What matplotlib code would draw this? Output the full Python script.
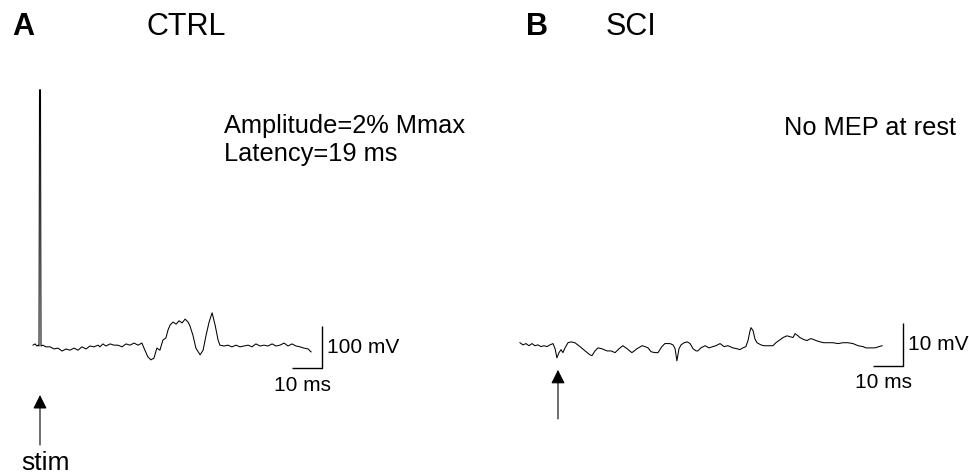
import matplotlib
matplotlib.use("Agg")
import matplotlib.pyplot as plt

plt.rcParams['font.family'] = ['Liberation Sans', 'DejaVu Sans']

# ---------------- data ----------------
# CTRL trace: time (ms) and voltage (mV)
ctrl_t = [0.0, 0.7, 1.3, 1.7, 2.0, 2.17, 2.5, 2.67, 3.3, 4.3,
          5.7, 7.0, 8.3, 9.7, 11.0, 12.3, 13.7, 15.0, 16.3, 17.7,
          19.0, 20.3, 21.7, 22.3, 23.3, 24.3, 25.7, 27.0, 28.3, 29.7,
          31.0, 32.3, 33.7, 35.0, 36.3, 37.3, 38.3, 39.3, 40.3, 41.3,
          42.3, 43.3, 44.3, 45.0, 45.7, 46.7, 47.7, 48.7, 49.7, 50.7,
          51.7, 52.3, 53.3, 54.3, 55.7, 56.7, 57.7, 58.7, 59.7, 60.7,
          61.7, 62.3, 63.7, 65.0, 66.3, 67.7, 69.0, 70.3, 71.7, 73.0,
          74.3, 75.7, 77.0, 78.3, 79.7, 81.0, 82.3, 83.7, 85.0, 86.3,
          87.7, 89.0, 90.3, 91.7, 92.7]
ctrl_v = [2, 5, 0, 2, 0, 610, 610, 0, 2, -2,
          -2, -7, -5, -12, -7, -10, -5, -10, -2, -7,
          0, -2, 2, -2, 5, 0, 5, 2, 2, -2,
          5, 2, 7, 2, 7, -10, -26, -33, -29, -5,
          -10, 14, 19, 38, 50, 57, 52, 60, 55, 64,
          57, 48, 26, -5, -21, -10, 26, 57, 79, 50,
          14, 2, 0, 2, -2, 2, -2, 0, 2, -2,
          5, 0, 2, 0, 5, 0, 2, 7, 0, 5,
          0, -2, -5, -7, -14]

# SCI trace: time (ms) and voltage (mV)
sci_t = [0.0, 1.0, 2.0, 3.0, 4.0, 5.0, 6.0, 7.0, 8.0, 9.0,
         10.0, 11.0, 11.7, 12.3, 13.0, 13.7, 14.3, 15.0, 16.0, 17.0,
         18.3, 20.0, 21.7, 23.3, 24.0, 25.0, 26.0, 27.3, 29.0, 30.3,
         31.7, 33.0, 34.3, 35.7, 37.3, 39.0, 40.7, 41.7, 42.7, 43.7,
         45.0, 46.0, 47.3, 48.3, 50.0, 51.0, 51.7, 52.3, 53.0, 53.7,
         54.7, 55.7, 56.7, 57.7, 58.7, 59.3, 60.3, 61.7, 63.0, 64.3,
         65.3, 66.7, 68.0, 69.3, 71.0, 72.3, 73.3, 74.3, 75.3, 76.0,
         76.7, 77.0, 77.7, 78.3, 79.0, 80.3, 81.3, 82.3, 83.3, 84.3,
         85.3, 86.3, 87.7, 89.0, 90.0, 91.0, 91.7, 92.7, 93.3, 94.7,
         95.7, 96.7, 97.3, 98.7, 100.0, 101.3, 102.7, 104.3, 106.0, 107.7,
         109.3, 111.0, 112.7, 114.3, 115.3, 116.7, 118.3, 119.7, 120.7]
sci_v = [0.7, 0.2, 0.5, 0.0, 0.5, 0.0, 0.2, -0.2, 0.0, -0.2,
         0.2, 0.5, -0.7, -2.8, -1.6, -0.9, -1.6, -0.5, 0.7, 0.9,
         0.7, -0.2, -1.2, -2.1, -2.3, -1.2, -0.5, -0.7, -1.2, -1.2,
         -1.6, -0.7, 0.0, -0.7, -1.6, -0.7, 0.0, -0.2, -0.5, -1.4,
         -1.6, -1.6, -0.2, 0.5, 0.5, 0.2, -0.7, -3.5, -0.7, 0.2,
         0.7, 0.9, 0.5, -0.7, -1.2, -1.2, -0.5, 0.0, -0.5, -0.2,
         0.0, 0.5, -0.2, 0.0, -0.5, -0.7, -0.9, -0.5, -0.2, 1.2,
         3.5, 4.2, 3.5, 1.6, 0.7, 0.2, 0.0, 0.0, 0.0, 0.0,
         0.7, 1.2, 1.9, 2.3, 2.1, 1.9, 2.8, 2.3, 1.9, 1.4,
         1.2, 1.6, 1.6, 1.2, 0.9, 0.7, 0.7, 0.7, 0.5, 0.7,
         0.7, 0.5, 0.0, -0.2, -0.5, -0.5, -0.5, -0.2, 0.0]

titles = ["CTRL", "SCI"]
panel_labels = ["A", "B"]
notes = ["Amplitude=2% Mmax\nLatency=19 ms", "No MEP at rest"]
bar_ms = [10, 10]
bar_mv = [100, 10]
stim_ms = [2.33, 12.67]

# ---------------- figure ----------------
W, H = 969, 476
fig = plt.figure(figsize=(W / 100, H / 100), dpi=100)

axL = fig.add_axes([0, 0, 0.5, 1])
axR = fig.add_axes([0.5, 0, 0.5, 1])
axL.set_xlim(-11.0, 150.5)
axL.set_ylim(-309.5, 823.8)
axR.set_xlim(-11.83, 149.67)
axR.set_ylim(-30.23, 80.23)
for ax in (axL, axR):
    ax.axis("off")

lw = 0.75
axL.plot(ctrl_t, ctrl_v, color="black", lw=lw)
axR.plot(sci_t, sci_v, color="black", lw=lw)

SB_FS = 15


def scalebar(ax, x_end, y_bottom, dx, dy, label_v, label_h, vx_off, hy_off):
    ax.plot([x_end - dx, x_end, x_end], [y_bottom, y_bottom, y_bottom + dy],
            color="black", lw=1.0, solid_capstyle="butt")
    ax.text(x_end + vx_off, y_bottom + dy / 2, label_v, ha="left", va="center",
            fontsize=SB_FS)
    ax.text(x_end - dx / 2 - 1.5, y_bottom - hy_off, label_h, ha="center", va="top",
            fontsize=SB_FS)


scalebar(axL, 96.33, -52.4, bar_ms[0], bar_mv[0], f"{bar_mv[0]} mV", f"{bar_ms[0]} ms", 1.8, 18)
scalebar(axR, 127.67, -4.65, bar_ms[1], bar_mv[1], f"{bar_mv[1]} mV", f"{bar_ms[1]} ms", 1.8, 1.7)

arrow_kw = dict(arrowstyle="-|>", color="black", lw=0.8,
                mutation_scale=21, shrinkA=0, shrinkB=0)
axL.annotate("", xy=(stim_ms[0], -116.7), xytext=(stim_ms[0], -235.7), arrowprops=arrow_kw)
axL.text(stim_ms[0] + 2.0, -250, "stim", ha="center", va="top", fontsize=19)
axR.annotate("", xy=(stim_ms[1], -5.6), xytext=(stim_ms[1], -17.0), arrowprops=arrow_kw)


def ftxt(x, y, s, **kw):
    fig.text(x / W, 1 - y / H, s, **kw)


ftxt(12, 27, panel_labels[0], fontsize=22, fontweight="bold", ha="left", va="center")
ftxt(526, 27, panel_labels[1], fontsize=22, fontweight="bold", ha="left", va="center")
ftxt(147, 27, titles[0], fontsize=22, ha="left", va="center")
ftxt(606, 27, titles[1], fontsize=22, ha="left", va="center")
ftxt(224, 114, notes[0], fontsize=18.3, ha="left", va="top", linespacing=1.2)
ftxt(784, 128, notes[1], fontsize=18.3, ha="left", va="center")

fig.savefig("out.png", dpi=100)
